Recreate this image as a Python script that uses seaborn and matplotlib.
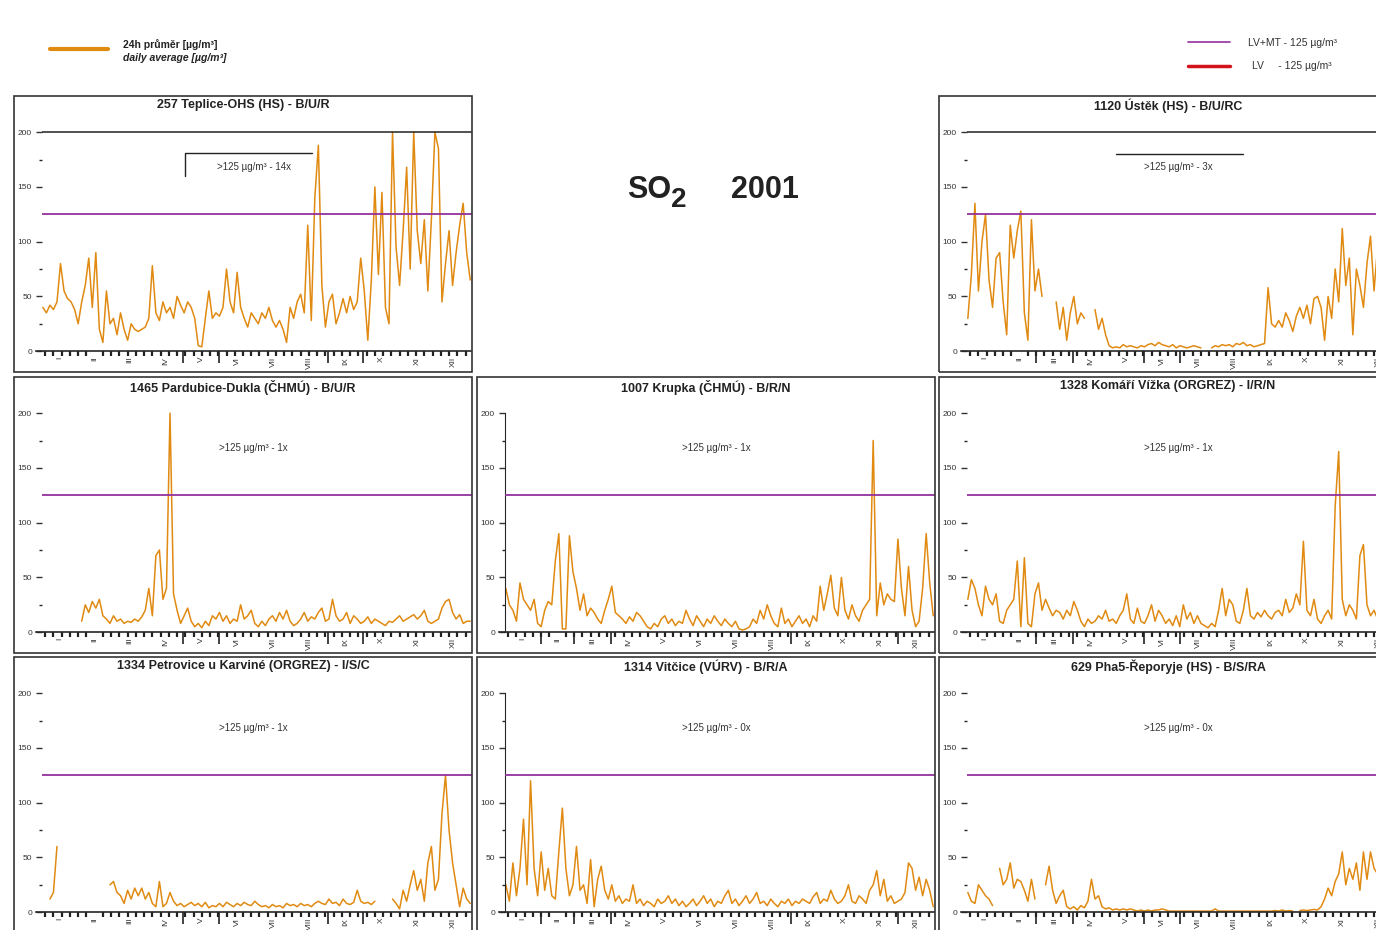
import numpy as np
import pandas as pd
import matplotlib
matplotlib.use('Agg')
import matplotlib.pyplot as plt
from matplotlib.lines import Line2D
from matplotlib.patches import Rectangle
import seaborn as sns

nan = np.nan

# denní průměry SO2 [ug/m3], odečteno z grafu po 3 dnech (den 1, 4, 7, ...)
teplice = [40, 35, 42, 38, 45, 80, 55, 48, 45, 38,
           25, 45, 60, 85, 40, 90, 20, 8, 55, 25,
           30, 15, 35, 20, 10, 25, 20, 18, 20, 22,
           30, 78, 35, 28, 45, 35, 40, 30, 50, 42,
           35, 45, 40, 30, 5, 4, 30, 55, 30, 35,
           32, 40, 75, 45, 35, 72, 40, 30, 22, 35,
           30, 25, 35, 30, 40, 28, 22, 28, 20, 8,
           40, 30, 45, 52, 35, 115, 28, 140, 188, 60,
           22, 45, 52, 25, 35, 48, 35, 50, 38, 45,
           85, 55, 10, 65, 150, 70, 145, 40, 25, 200,
           95, 60, 110, 168, 75, 200, 110, 80, 120, 55,
           120, 200, 185, 45, 80, 110, 60, 90, 115, 135,
           90, 65]
ustek = [30, 70, 135, 55, 100, 125, 65, 40, 85, 90,
         45, 15, 115, 85, 110, 128, 35, 10, 120, 55,
         75, 50, nan, nan, nan, 45, 20, 40, 10, 35,
         50, 25, 35, 30, nan, nan, 38, 20, 30, 15,
         5, 3, 4, 3, 6, 4, 5, 4, 3, 5,
         4, 6, 7, 5, 8, 6, 5, 4, 6, 3,
         5, 4, 3, 4, 5, 4, 3, nan, nan, 3,
         5, 4, 6, 5, 6, 4, 7, 6, 8, 5,
         6, 4, 5, 6, 7, 58, 25, 22, 28, 22,
         35, 28, 18, 32, 40, 30, 42, 25, 48, 50,
         40, 10, 50, 30, 75, 45, 112, 60, 85, 15,
         75, 60, 40, 80, 105, 55, 95, 70, 60, 80,
         50, 70]
pardubice = [nan, nan, nan, nan, nan, nan, nan, nan, nan, nan,
             nan, 10, 25, 18, 28, 22, 30, 15, 12, 8,
             15, 10, 12, 8, 10, 9, 12, 10, 14, 20,
             40, 15, 70, 75, 30, 40, 200, 35, 20, 8,
             15, 22, 10, 5, 8, 4, 10, 6, 15, 12,
             18, 10, 15, 8, 12, 10, 25, 12, 15, 20,
             8, 5, 10, 6, 12, 15, 10, 18, 12, 20,
             10, 6, 8, 12, 18, 10, 14, 12, 18, 22,
             10, 12, 30, 15, 10, 12, 18, 8, 15, 12,
             8, 10, 14, 8, 12, 10, 8, 6, 10, 9,
             12, 15, 10, 12, 14, 16, 12, 15, 20, 10,
             8, 10, 12, 22, 28, 30, 18, 12, 16, 8,
             10, 10]
krupka = [40, 25, 20, 10, 45, 30, 25, 20, 30, 8,
          5, 20, 28, 25, 65, 90, 3, 3, 88, 55,
          40, 20, 35, 15, 22, 18, 12, 8, 20, 30,
          42, 18, 15, 12, 8, 14, 10, 18, 15, 10,
          5, 3, 8, 5, 12, 15, 8, 12, 6, 10,
          8, 20, 12, 6, 15, 10, 5, 12, 8, 15,
          10, 6, 12, 8, 5, 10, 3, 2, 3, 5,
          12, 8, 20, 12, 25, 15, 8, 5, 22, 8,
          12, 5, 10, 15, 8, 12, 5, 15, 10, 42,
          20, 35, 52, 22, 15, 50, 20, 12, 25, 15,
          10, 20, 25, 30, 175, 15, 45, 25, 35, 30,
          28, 85, 40, 15, 60, 20, 5, 10, 40, 90,
          45, 15]
komari = [30, 48, 40, 25, 15, 42, 30, 25, 35, 10,
          8, 20, 25, 30, 65, 5, 68, 8, 5, 35,
          45, 20, 30, 22, 15, 20, 18, 12, 20, 15,
          28, 20, 10, 5, 12, 8, 10, 15, 12, 20,
          10, 12, 8, 15, 20, 35, 12, 8, 22, 10,
          8, 15, 25, 10, 20, 15, 8, 12, 6, 15,
          5, 25, 12, 18, 8, 15, 8, 6, 4, 8,
          5, 20, 40, 15, 30, 25, 10, 8, 20, 40,
          15, 12, 18, 14, 20, 15, 12, 18, 20, 15,
          30, 18, 22, 35, 25, 83, 20, 15, 30, 12,
          8, 15, 20, 12, 115, 165, 30, 15, 25, 20,
          12, 70, 80, 25, 15, 20, 12, 10, 15, 8,
          12, 10]
petrovice = [nan, nan, 12, 18, 60, nan, nan, nan, nan, nan,
             nan, nan, nan, nan, nan, nan, nan, nan, nan, 25,
             28, 18, 15, 8, 20, 12, 22, 15, 22, 12,
             18, 8, 5, 28, 5, 8, 18, 10, 6, 8,
             5, 7, 9, 6, 8, 5, 9, 4, 6, 5,
             8, 5, 9, 7, 5, 8, 6, 9, 7, 6,
             10, 7, 5, 6, 4, 7, 5, 6, 4, 8,
             6, 7, 5, 8, 6, 7, 5, 8, 10, 8,
             7, 12, 8, 9, 6, 12, 8, 7, 9, 20,
             10, 8, 9, 7, 10, nan, nan, nan, nan, 12,
             8, 3, 20, 10, 25, 38, 20, 30, 10, 45,
             60, 20, 30, 90, 125, 75, 45, 25, 5, 22,
             12, 8]
vitcice = [25, 10, 45, 15, 40, 85, 25, 120, 40, 15,
           55, 20, 40, 15, 12, 55, 95, 40, 15, 25,
           60, 20, 25, 8, 48, 5, 30, 42, 20, 12,
           25, 10, 15, 8, 12, 10, 25, 8, 12, 6,
           10, 8, 5, 12, 8, 10, 15, 8, 12, 6,
           10, 5, 8, 12, 6, 10, 15, 8, 12, 5,
           10, 8, 15, 20, 8, 12, 6, 10, 15, 8,
           12, 18, 8, 10, 6, 12, 8, 5, 10, 8,
           12, 6, 10, 8, 12, 10, 8, 14, 18, 8,
           12, 10, 20, 12, 8, 10, 15, 25, 10, 8,
           15, 12, 8, 20, 25, 38, 15, 30, 10, 15,
           8, 10, 12, 18, 45, 40, 20, 32, 15, 30,
           20, 5]
reporyje = [18, 10, 8, 25, 20, 15, 12, 6, nan, 40,
            25, 30, 45, 22, 30, 28, 20, 10, 30, 12,
            nan, nan, 25, 42, 20, 8, 15, 20, 5, 3,
            5, 2, 6, 4, 10, 30, 12, 15, 5, 3,
            4, 2, 3, 2, 3, 2, 3, 2, 1, 2,
            1, 2, 1, 2, 2, 3, 2, 1, 1, 1,
            1, 1, 1, 1, 1, 1, 1, 1, 1, 1,
            3, 1, 1, 1, 1, 1, 1, 1, 1, 1,
            1, 1, 1, 1, 1, 1, 1, 1.5, 1, 2,
            1, 1.5, 1, nan, 1.5, 2, 1.5, 2, 2.5, 2,
            5, 12, 22, 15, 28, 35, 55, 25, 40, 30,
            45, 20, 55, 30, 55, 40, 35, 50, 45, 30,
            40, 35]

months = ['I', 'II', 'III', 'IV', 'V', 'VI', 'VII', 'VIII', 'IX', 'X', 'XI', 'XII']
month_start = [0, 31, 59, 90, 120, 151, 181, 212, 243, 273, 304, 334, 365]
LIMIT = 125

ORANGE = '#e08a12'
PURPLE = '#93309e'
RED = '#d4121c'

W, H = 1376, 930
COL_LEFT = [14, 477, 939]
ROW_TOP = [96, 377, 657]
BOX_W, BOX_H = 458, 276


def fx(px):
    return px / W


def fy(py):
    return 1 - py / H


def drawPanel(fig, col, row, title, vals, note, long_months,
              show_200=False, show_yaxis=False, bracket=None):
    rect = [fx(COL_LEFT[col]), fy(ROW_TOP[row] + BOX_H), BOX_W / W, BOX_H / H]
    ax = fig.add_axes(rect)
    df = pd.DataFrame({'day': np.arange(len(vals)) * 3 + 1, 'value': vals})
    df['seg'] = df['value'].isna().cumsum()
    df = df.dropna()
    sns.lineplot(data=df, x='day', y='value', units='seg', estimator=None,
                 color=ORANGE, lw=1.1, legend=False, ax=ax)

    ax.set_xlim(-23.5, 365.5)
    ax.set_ylim(-19, 233)
    ax.set_xlabel('')
    ax.set_ylabel('')

    ax.hlines(LIMIT, 0, 365.5, color=PURPLE, lw=1.3, zorder=3)
    if show_200:
        ax.hlines(200, 0, 365.5, color='#222222', lw=1.1)

    for s in ['top', 'right']:
        ax.spines[s].set_visible(False)
    ax.spines['left'].set_position(('data', 0))
    ax.spines['left'].set_bounds(0, 200)
    ax.spines['left'].set_visible(show_yaxis)
    ax.spines['bottom'].set_position(('data', 0))
    ax.spines['bottom'].set_bounds(-5, 365)
    ax.spines['bottom'].set_linewidth(1.2)
    ax.add_patch(Rectangle((0, 0), 1, 1, transform=ax.transAxes, fill=False,
                           ec='#333333', lw=1.2, clip_on=False, zorder=5))

    ax.set_yticks([0, 50, 100, 150, 200])
    ax.set_yticks([25, 75, 175], minor=True)
    ax.tick_params(axis='y', which='both', left=True, right=False)
    ax.tick_params(axis='y', which='major', labelsize=6, length=4, width=1,
                   pad=3, colors='#333333')
    ax.tick_params(axis='y', which='minor', length=2, width=1)

    centers = [(a + b) / 2 for a, b in zip(month_start[:-1], month_start[1:])]
    ax.set_xticks(centers, labels=months, rotation=90)
    ax.set_xticks(np.arange(3, 365, 7), minor=True)
    ax.tick_params(axis='x', which='both', bottom=True, top=False)
    ax.tick_params(axis='x', which='major', length=0, pad=4, labelsize=6,
                   colors='#333333')
    ax.tick_params(axis='x', which='minor', length=3.5, width=1.6, color='#222222')
    ax.vlines([month_start[m] for m in long_months], -11, 0, color='#222222',
              lw=1.2, clip_on=False)

    ax.text(0.5, 0.99, title, transform=ax.transAxes, ha='center', va='top',
            fontsize=9, fontweight='bold', color='#222222')
    ax.text(180, 168, note, ha='center', va='center', fontsize=7, color='#333333')
    if bracket == 'box':
        ax.plot([122, 122, 230], [160, 181, 181], color='#222222', lw=1)
    elif bracket == 'line':
        ax.plot([127, 235], [180, 180], color='#222222', lw=1)
    return ax


sns.set_style('white')
plt.rcParams['font.family'] = ['Liberation Sans', 'DejaVu Sans']

fig = plt.figure(figsize=(13.76, 9.30), dpi=100)
fig.patch.set_facecolor('white')

drawPanel(fig, 0, 0, '257 Teplice-OHS (HS) - B/U/R', teplice,
          '>125 µg/m³ - 14x', [4, 5, 8, 9], show_200=True, bracket='box')
drawPanel(fig, 2, 0, '1120 Ústěk (HS) - B/U/RC', ustek,
          '>125 µg/m³ - 3x', [2, 3, 5, 6], show_200=True, bracket='line')
drawPanel(fig, 0, 1, '1465 Pardubice-Dukla (ČHMÚ) - B/U/R', pardubice,
          '>125 µg/m³ - 1x', [4, 5, 8, 9])
drawPanel(fig, 1, 1, '1007 Krupka (ČHMÚ) - B/R/N', krupka,
          '>125 µg/m³ - 1x', [1, 2, 3, 8, 11], show_yaxis=True)
drawPanel(fig, 2, 1, '1328 Komáří Vížka (ORGREZ) - I/R/N', komari,
          '>125 µg/m³ - 1x', [2, 3, 5, 6])
drawPanel(fig, 0, 2, '1334 Petrovice u Karviné (ORGREZ) - I/S/C', petrovice,
          '>125 µg/m³ - 1x', [4, 5, 8, 9])
drawPanel(fig, 1, 2, '1314 Vitčice (VÚRV) - B/R/A', vitcice,
          '>125 µg/m³ - 0x', [1, 2, 3, 8, 11], show_yaxis=True)
drawPanel(fig, 2, 2, '629 Pha5-Řeporyje (HS) - B/S/RA', reporyje,
          '>125 µg/m³ - 0x', [2, 3, 5, 6])

# nadpis uprostřed
fig.text(fx(627), fy(190), 'SO', fontsize=22, fontweight='bold',
         ha='left', va='center', color='#222222')
fig.text(fx(671), fy(200), '2', fontsize=20, fontweight='bold',
         ha='left', va='center', color='#222222')
fig.text(fx(731), fy(190), '2001', fontsize=22, fontweight='bold',
         ha='left', va='center', color='#222222')

# legenda
fig.add_artist(Line2D([fx(50), fx(108)], [fy(49), fy(49)], color=ORANGE, lw=3,
                      transform=fig.transFigure))
fig.text(fx(123), fy(45), '24h průměr [µg/m³]', fontsize=7.5, fontweight='bold',
         ha='left', va='center', color='#222222')
fig.text(fx(123), fy(58), 'daily average [µg/m³]', fontsize=7.5, style='italic',
         fontweight='bold', ha='left', va='center', color='#222222')
fig.add_artist(Line2D([fx(1188), fx(1230)], [fy(42), fy(42)], color=PURPLE, lw=1.2,
                      transform=fig.transFigure))
fig.add_artist(Line2D([fx(1188), fx(1230)], [fy(66), fy(66)], color=RED, lw=2.5,
                      transform=fig.transFigure))
fig.text(fx(1248), fy(43), 'LV+MT - 125 µg/m³', fontsize=7.5,
         ha='left', va='center', color='#333333')
fig.text(fx(1252), fy(66), 'LV     - 125 µg/m³', fontsize=7.5,
         ha='left', va='center', color='#333333')

fig.savefig('out.png', dpi=100, facecolor='white')
